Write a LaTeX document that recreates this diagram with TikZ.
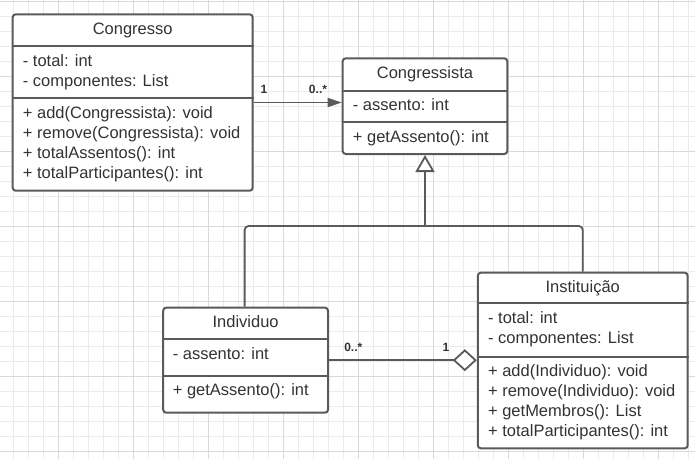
\documentclass[tikz,border=0pt]{standalone}
\usepackage{fontspec}
\setmainfont{Liberation Sans}
\usetikzlibrary{arrows.meta}
\definecolor{umlline}{HTML}{5A5A5A}
\definecolor{umltext}{HTML}{333333}
\definecolor{gridminor}{HTML}{EBEBEB}
\definecolor{gridmajor}{HTML}{D9D9D9}
\tikzset{
  classbox/.style={draw=umlline, line width=2pt, fill=white, rounded corners=3pt, inner sep=0pt},
  classname/.style={text=umltext, font=\fontsize{16.5}{20}\selectfont, inner sep=0pt, anchor=base},
  member/.style={text=umltext, font=\fontsize{16.5}{20}\selectfont, inner sep=0pt, anchor=base west},
  mult/.style={text=umltext, font=\fontsize{12}{14}\selectfont\bfseries, inner sep=0pt},
  sep/.style={draw=umlline, line width=2pt},
  link/.style={draw=umlline, line width=1.8pt},
}
\newcommand{\sepline}[2]{\draw[sep] (#1.west |- 0,#2) -- (#1.east |- 0,#2);}

\begin{document}
\begin{tikzpicture}[x=1pt, y=-1pt]
        \useasboundingbox (0,0) rectangle (695,459);
        % grid
        \foreach \gx in {13,28,...,688} \draw[gridminor, line width=1pt] (\gx,0) -- (\gx,459);
        \foreach \gy in {1,16,...,451} \draw[gridminor, line width=1pt] (0,\gy) -- (695,\gy);
        \foreach \gx in {58,133,...,658} \draw[gridmajor, line width=1pt] (\gx,0) -- (\gx,459);
        \foreach \gy in {1,76,...,451} \draw[gridmajor, line width=1pt] (0,\gy) -- (695,\gy);
        % Congresso
        \node[classbox, minimum width=240pt, minimum height=176.4pt] (congresso) at (132.7,102.5) {};
        \sepline{congresso}{46}
        \sepline{congresso}{98.3}
        \node[classname] (congresso title) at (132.7,34) {Congresso};
        \node[member] (congresso total) at (22.7,66) {- total: int};
        \node[member] (congresso comp) at (22.7,86) {- componentes: List};
        \node[member] (congresso add) at (22.7,118) {+ add(Congressista): void};
        \node[member] (congresso remove) at (22.7,138) {+ remove(Congressista): void};
        \node[member] (congresso assentos) at (22.7,158) {+ totalAssentos(): int};
        \node[member] (congresso part) at (22.7,178) {+ totalParticipantes(): int};
        % Congressista
        \node[classbox, minimum width=164.6pt, minimum height=95.7pt] (congressista) at (425,106.15) {};
        \sepline{congressista}{90.7}
        \sepline{congressista}{122.3}
        \node[classname] (congressista title) at (425,78) {Congressista};
        \node[member] (congressista assento) at (352.7,110.5) {- assento: int};
        \node[member] (congressista get) at (352.7,142) {+ getAssento(): int};
        % Individuo
        \node[classbox, minimum width=164.8pt, minimum height=105pt] (individuo) at (245.6,360.2) {};
        \sepline{individuo}{339.3}
        \sepline{individuo}{376}
        \node[classname] (individuo title) at (245.6,327.5) {Individuo};
        \node[member] (individuo assento) at (172.6,359) {- assento: int};
        \node[member] (individuo get) at (172.6,395.7) {+ getAssento(): int};
        % Instituicao
        \node[classbox, minimum width=209.9pt, minimum height=175.6pt] (instituicao) at (582.75,360.5) {};
        \sepline{instituicao}{303.3}
        \sepline{instituicao}{356.7}
        \node[classname] (instituicao title) at (582.75,292.5) {Instituição};
        \node[member] (instituicao total) at (487.9,323) {- total: int};
        \node[member] (instituicao comp) at (487.9,343) {- componentes: List};
        \node[member] (instituicao add) at (487.9,376.5) {+ add(Individuo): void};
        \node[member] (instituicao remove) at (487.9,396.5) {+ remove(Individuo): void};
        \node[member] (instituicao membros) at (487.9,416.5) {+ getMembros(): List};
        \node[member] (instituicao part) at (487.9,436.5) {+ totalParticipantes(): int};
        % association
        \draw[link, -{Triangle[length=14pt, width=9pt]}] (congresso.east) -- (congresso.east -| congressista.west);
        \node[mult] (mult one) at (264,89) {1};
        \node[mult] (mult many) at (318,89) {0..*};
        % generalization
        \coordinate (joint) at (congressista.south |- 0,226);
        \draw[link, rounded corners=4pt] ([xshift=-1pt]individuo.north) |- (joint) -| (instituicao.north);
        \draw[link, -{Triangle[open, length=17pt, width=19pt, fill=white]}] (joint) -- (congressista.south);
        % aggregation
        \draw[link, -{Diamond[open, length=24pt, width=22pt, fill=white]}] (individuo.east) -- (individuo.east -| instituicao.west);
        \node[mult] (agg many) at (353.3,347.5) {0..*};
        \node[mult] (agg one) at (446,347.5) {1};
\end{tikzpicture}
\end{document}
